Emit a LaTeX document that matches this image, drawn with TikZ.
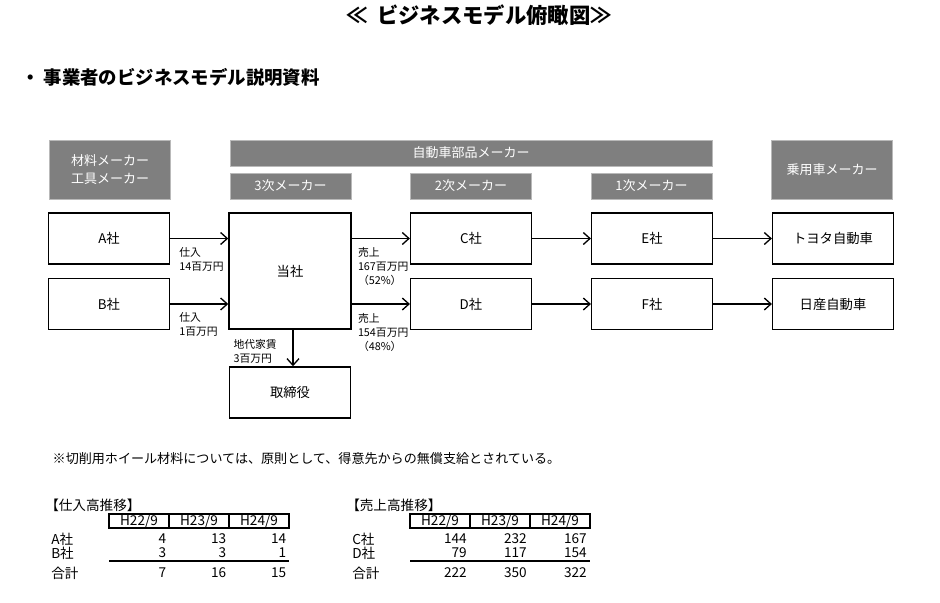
\documentclass[tikz,border=0pt]{standalone}
\usepackage{fontspec}
\setmainfont{Noto Sans CJK JP}
\usetikzlibrary{positioning, arrows.meta}
\definecolor{hdrgray}{RGB}{127,127,127}
\tikzset{
    box/.style={draw, line width=1.1pt, rectangle, minimum height=38.25pt, minimum width=90.5pt, align=center, font=\fontsize{10}{12}\selectfont},
    hdr/.style={draw=gray!55, fill=hdrgray, text=white, rectangle, minimum height=19.5pt, minimum width=90.5pt, align=center, font=\fontsize{9.75}{13}\selectfont},
    lbl/.style={inner sep=0pt, align=left, font=\fontsize{8.1}{10.5}\selectfont},
    flow/.style={line width=1.1pt, -{Straight Barb[length=5pt, width=9pt, line width=1pt]}},
    cell/.style={draw, line width=0.8pt, rectangle, minimum height=10.5pt, minimum width=45pt, inner sep=0pt, font=\fontsize{10.2}{11}\selectfont},
    tabtxt/.style={inner sep=0pt, font=\fontsize{10.2}{11}\selectfont}
}

\begin{document}
\begin{tikzpicture}[x=0.75pt, y=-0.75pt]
    \useasboundingbox (0,0) rectangle (940,603);

    \node[font=\bfseries\fontsize{16}{18}\selectfont] (title) at (479,15) {≪\hspace{0.45em}ビジネスモデル俯瞰図≫};
    \node[anchor=west, font=\bfseries\fontsize{13.8}{16}\selectfont] (subtitle) at (17,77) {・\hspace{0.2em}事業者のビジネスモデル説明資料};

    % header row
    \node[hdr, minimum height=44.25pt] (h-mat) at (110,169.5) {材料メーカー\\工具メーカー};
    \node[hdr, minimum width=361.5pt] (h-parts) at (471,153) {自動車部品メーカー};
    \node[hdr] (h-3rd) at (290.5,186) {3次メーカー};
    \node[hdr] (h-2nd) at (471,186) {2次メーカー};
    \node[hdr] (h-1st) at (651.5,186) {1次メーカー};
    \node[hdr, minimum height=44.25pt] (h-car) at (832,169.5) {乗用車メーカー};

    % companies
    \node[box] (a) at (109,238.5) {A社};
    \node[box] (b) at (109,304) {B社};
    \node[box, minimum height=87pt, minimum width=91.5pt] (tousha) at (290,271) {当社};
    \node[box] (yaku) at (290,392.5) {取締役};
    \node[box] (c) at (471,238.5) {C社};
    \node[box] (d) at (471,304) {D社};
    \node[box] (e) at (652,238.5) {E社};
    \node[box] (f) at (652,304) {F社};
    \node[box] (toyota) at (833,238.5) {トヨタ自動車};
    \node[box] (nissan) at (833,304) {日産自動車};

    \draw[flow] (a.east) -- (a.east -| tousha.west);
    \draw[flow] (b.east) -- (b.east -| tousha.west);
    \draw[flow] (tousha.east |- c.west) -- (c.west);
    \draw[flow] (tousha.east |- d.west) -- (d.west);
    \draw[flow] (c) -- (e);
    \draw[flow] (d) -- (f);
    \draw[flow] (e) -- (toyota);
    \draw[flow] (f) -- (nissan);
    \draw[flow] ([xshift=2.25pt]tousha.south) -- ([xshift=2.25pt]tousha.south |- yaku.north);

    \node[lbl, below right=6.5pt and 6.75pt of a.east] (buy-a) {仕入\\14百万円};
    \node[lbl, below right=6.5pt and 6.75pt of b.east] (buy-b) {仕入\\1百万円};
    \node[lbl, below right=6.5pt and 4.5pt of tousha.east |- c.west] (sell-c) {売上\\167百万円\\（52\%）};
    \node[lbl, below right=6.5pt and 4.5pt of tousha.east |- d.west] (sell-d) {売上\\154百万円\\（48\%）};
    \node[lbl, below right=7pt and 3.75pt of tousha.south west] (rent) {地代家賃\\3百万円};

    \node[anchor=west, font=\fontsize{9.8}{12}\selectfont] (note) at (48,459) {※切削用ホイール材料については、原則として、得意先からの無償支給とされている。};

    % purchase table
    \node[tabtxt, anchor=west] (buy-title) at (45,505) {【仕入高推移】};
    \node[cell] (buy-h1) at (139,521) {H22/9};
    \node[cell] (buy-h2) at (199,521) {H23/9};
    \node[cell] (buy-h3) at (259,521) {H24/9};
    \node[tabtxt, anchor=west] (buy-ra) at (51,539) {A社};
    \node[tabtxt, anchor=west] (buy-rb) at (51,553) {B社};
    \node[tabtxt, anchor=west] (buy-rs) at (51,573) {合計};
    \foreach \x/\p/\q/\s in {0/4/3/7, 1/13/3/16, 2/14/1/15} {
        \node[tabtxt, anchor=east] at (166.5+60*\x,539) {\p};
        \node[tabtxt, anchor=east] at (166.5+60*\x,553) {\q};
        \node[tabtxt, anchor=east] at (166.5+60*\x,573) {\s};
    }
    \draw[line width=1.1pt] (109,561) -- (289,561);

    % sales table
    \node[tabtxt, anchor=west] (sell-title) at (346,505) {【売上高推移】};
    \node[cell] (sell-h1) at (440,521) {H22/9};
    \node[cell] (sell-h2) at (500,521) {H23/9};
    \node[cell] (sell-h3) at (560,521) {H24/9};
    \node[tabtxt, anchor=west] (sell-rc) at (352,539) {C社};
    \node[tabtxt, anchor=west] (sell-rd) at (352,553) {D社};
    \node[tabtxt, anchor=west] (sell-rs) at (352,573) {合計};
    \foreach \x/\p/\q/\s in {0/144/79/222, 1/232/117/350, 2/167/154/322} {
        \node[tabtxt, anchor=east] at (467+60*\x,539) {\p};
        \node[tabtxt, anchor=east] at (467+60*\x,553) {\q};
        \node[tabtxt, anchor=east] at (467+60*\x,573) {\s};
    }
    \draw[line width=1.1pt] (410,561) -- (590,561);
\end{tikzpicture}
\end{document}
